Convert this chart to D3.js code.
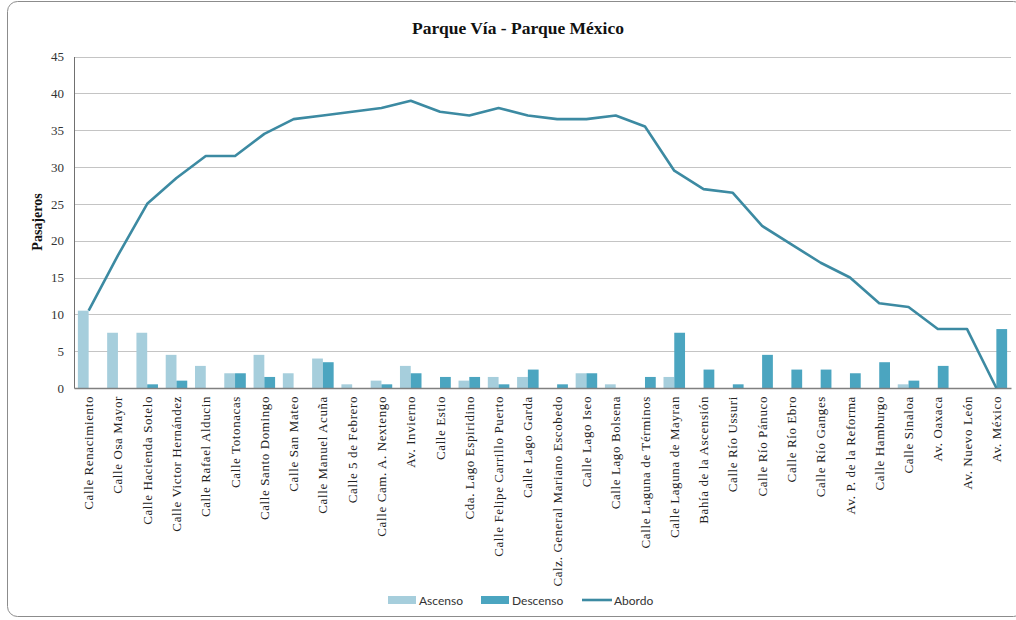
<!DOCTYPE html>
<html><head><meta charset="utf-8">
<script src="https://cdn.jsdelivr.net/npm/d3@7"></script>
<style>body{margin:0;background:#fff;}svg{display:block;}</style>
</head><body><svg id="c" width="1016" height="620"></svg>
<script>
const categories = ["Calle Renacimiento","Calle Osa Mayor","Calle Hacienda Sotelo","Calle Victor Hernández","Calle Rafael  Alducin","Calle Totonacas","Calle Santo Domingo","Calle San Mateo","Calle Manuel  Acuña","Calle 5 de Febrero","Calle Cam. A. Nextengo","Av. Invierno","Calle Estio","Cda. Lago Espiridino","Calle Felipe Carrillo Puerto","Calle Lago Garda","Calz. General Mariano Escobedo","Calle Lago Iseo","Calle Lago Bolsena","Calle Laguna de Términos","Calle Laguna de Mayran","Bahía de la Ascensión","Calle Río Ussuri","Calle Río Pánuco","Calle Río Ebro","Calle Río Ganges","Av. P. de la Reforma","Calle Hamburgo","Calle Sinaloa","Av. Oaxaca","Av. Nuevo León","Av. México"];
const ascenso  = [10.5,7.5,7.5,4.5,3,2,4.5,2,4,0.5,1,3,0,1,1.5,1.5,0,2,0.5,0,1.5,0,0,0,0,0,0,0,0.5,0,0,0];
const descenso = [0,0,0.5,1,0,2,1.5,0,3.5,0,0.5,2,1.5,1.5,0.5,2.5,0.5,2,0,1.5,7.5,2.5,0.5,4.5,2.5,2.5,2,3.5,1,3,0,8];
const abordo   = [10.5,18,25,28.5,31.5,31.5,34.5,36.5,37,37.5,38,39,37.5,37,38,37,36.5,36.5,37,35.5,29.5,27,26.5,22,19.5,17,15,11.5,11,8,8,0];
const yTicks = [0,5,10,15,20,25,30,35,40,45];
const seriesNames = ["Ascenso","Descenso","Abordo"];
const colors = {Ascenso:"#a6cedc", Descenso:"#4ba5c0", Abordo:"#3c8aa2"};

const svg = d3.select("#c");
svg.append("rect").attr("x",7.5).attr("y",1.5).attr("width",1016).attr("height",615)
  .attr("rx",10).attr("fill","#fff").attr("stroke","#8c8c8c").attr("stroke-width",1);

const L=74, R=1011, T=56.5, B=388;
const x = d3.scaleBand().domain(categories).range([L,R]).paddingInner(0).paddingOuter(0);
const y = d3.scaleLinear().domain([0,45]).range([B,T]);
const xs = d3.scaleBand().domain(["Ascenso","Descenso"]).range([0,x.bandwidth()]).paddingInner(0).paddingOuter(0.36);

svg.append("g").selectAll("line").data(yTicks.filter(d=>d>0)).join("line")
  .attr("x1",L).attr("x2",R).attr("y1",d=>Math.round(y(d))+0.5).attr("y2",d=>Math.round(y(d))+0.5)
  .attr("stroke","#c4c4c4").attr("stroke-width",1);

const ya = svg.append("g").attr("transform",`translate(${L},0)`)
  .call(d3.axisLeft(y).tickValues(yTicks).tickSize(0).tickPadding(10));
ya.select(".domain").attr("stroke","#707070");
ya.selectAll("text").attr("font-family","Liberation Serif").attr("font-size",13).attr("fill","#333");

const g = svg.append("g");
categories.forEach((c,i)=>{
  [["Ascenso",ascenso[i]],["Descenso",descenso[i]]].forEach(([s,v])=>{
    if(v<=0) return;
    g.append("rect").attr("x",x(c)+xs(s)).attr("width",xs.bandwidth())
      .attr("y",y(v)).attr("height",y(0)-y(v)).attr("fill",colors[s]);
  });
});

const xa = svg.append("g").attr("transform",`translate(0,${B})`)
  .call(d3.axisBottom(x).tickSize(0).tickPadding(0));
xa.select(".domain").attr("stroke","#808080").attr("stroke-width",1.5);
xa.selectAll("text").attr("font-family","Liberation Serif").attr("font-size",13).attr("fill","#222")
  .attr("letter-spacing","0.6px")
  .attr("text-anchor","end").attr("dy","0.35em")
  .attr("transform","translate(0,8) rotate(-90)").attr("x",0).attr("y",0);

const line = d3.line().x((d,i)=>x(categories[i])+x.bandwidth()/2).y(d=>y(d));
svg.append("path").datum(abordo).attr("d",line).attr("fill","none")
  .attr("stroke",colors.Abordo).attr("stroke-width",2.6).attr("stroke-linejoin","round");

svg.append("text").attr("x",518).attr("y",34).attr("text-anchor","middle")
  .attr("font-family","Liberation Serif").attr("font-weight","bold").attr("font-size",17.5)
  .attr("fill","#111").text("Parque Vía - Parque México");

svg.append("text").attr("transform","translate(42,222) rotate(-90)").attr("text-anchor","middle")
  .attr("font-family","Liberation Serif").attr("font-weight","bold").attr("font-size",14)
  .attr("fill","#111").text("Pasajeros");

const lg = svg.append("g").attr("font-family","Lato, 'Liberation Sans', sans-serif").attr("font-size",12).attr("fill","#333");
const legendX = {Ascenso:388, Descenso:481, Abordo:582};
seriesNames.forEach(s=>{
  const lx = legendX[s];
  if(s==="Abordo"){
    lg.append("line").attr("x1",lx).attr("x2",lx+30).attr("y1",600).attr("y2",600)
      .attr("stroke",colors[s]).attr("stroke-width",2.6);
  } else {
    lg.append("rect").attr("x",lx).attr("y",596).attr("width",28).attr("height",8).attr("fill",colors[s]);
  }
  lg.append("text").attr("x",lx+(s==="Abordo"?32:31)).attr("y",604.5).text(s);
});
</script></body></html>
